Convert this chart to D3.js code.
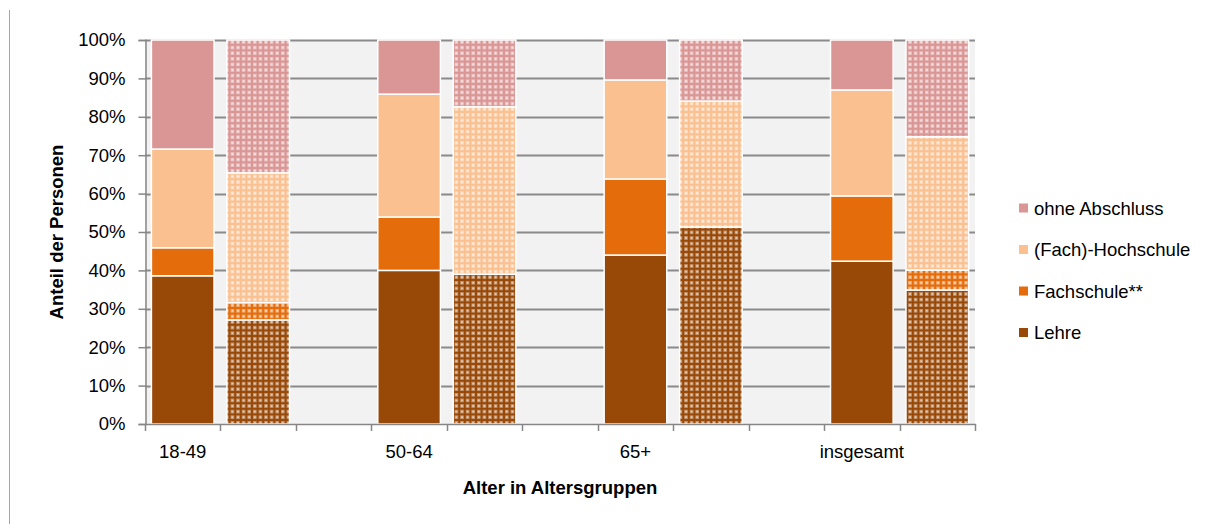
<!DOCTYPE html>
<html>
<head>
<meta charset="utf-8">
<script src="https://cdn.jsdelivr.net/npm/d3@7"></script>
<style>
  html, body { margin: 0; padding: 0; background: #ffffff; }
  svg { display: block; font-family: "Liberation Sans", Arial, sans-serif; }
</style>
</head>
<body>
<svg id="chart" width="1216" height="524"></svg>
<script>
// Category slots along the x axis (labels sit under the first bar of each group)
const xLabels = ["18-49", "", "", "50-64", "", "", "65+", "", "", "insgesamt", ""];
// Which slot each bar occupies, and whether it is drawn with the dotted fill
const barSlot = [0, 1, 3, 4, 6, 7, 9, 10];
const barDotted = [false, true, false, true, false, true, false, true];

// Shares in percent per bar (bottom to top)
const lehre      = [38.6, 27.1, 40.0, 39.0, 44.0, 51.3, 42.4, 34.9];
const fachschule = [ 7.3,  4.5, 13.9,  0.0, 19.8,  0.0, 17.0,  5.2];
const hochschule = [25.7, 33.8, 32.0, 43.6, 25.8, 32.8, 27.6, 34.7];
const ohne       = [28.4, 34.6, 14.1, 17.4, 10.4, 15.9, 13.0, 25.2];

const seriesNames = ["Lehre", "Fachschule**", "(Fach)-Hochschule", "ohne Abschluss"];
const seriesColors = ["#984807", "#e46c0a", "#fac090", "#d99694"];
const yTicks = [0, 10, 20, 30, 40, 50, 60, 70, 80, 90, 100];

const FS = 18.5;
const svg = d3.select("#chart");
const plot = { left: 145, right: 975, top: 40, bottom: 424 };

// outer frame line on the left
svg.append("line")
  .attr("x1", 9.5).attr("x2", 9.5).attr("y1", 10).attr("y2", 524)
  .attr("stroke", "#a6a6a6").attr("stroke-width", 1);

const x = d3.scaleBand()
  .domain(d3.range(xLabels.length))
  .range([plot.left, plot.right])
  .paddingInner(0.17).paddingOuter(0.085);

const y = d3.scaleLinear().domain([0, 100]).range([plot.bottom, plot.top]);

// plot background
svg.append("rect")
  .attr("x", plot.left).attr("y", plot.top)
  .attr("width", plot.right - plot.left).attr("height", plot.bottom - plot.top)
  .attr("fill", "#f2f2f2");

// gridlines
svg.append("g").selectAll("line").data(yTicks.slice(1)).join("line")
  .attr("x1", plot.left).attr("x2", plot.right)
  .attr("y1", d => Math.round(y(d)) + 0.5).attr("y2", d => Math.round(y(d)) + 0.5)
  .attr("stroke", "#8a8a8a").attr("stroke-width", 1.8);

// dotted fills
const defs = svg.append("defs");
seriesColors.forEach((c, i) => {
  const p = defs.append("pattern")
    .attr("id", "dots" + i)
    .attr("patternUnits", "userSpaceOnUse")
    .attr("width", 5.6).attr("height", 5.6);
  p.append("rect").attr("width", 5.6).attr("height", 5.6).attr("fill", c);
  p.append("rect").attr("x", 1.0).attr("y", 1.0).attr("width", 3.6).attr("height", 3.6)
    .attr("fill", "#ffffff").attr("fill-opacity", 0.42);
  p.append("rect").attr("x", 2.0).attr("y", 2.0).attr("width", 1.6).attr("height", 1.6)
    .attr("fill", "#ffffff").attr("fill-opacity", 0.65);
});

// stacked bars
const rows = barSlot.map((s, i) => ({
  slot: s, dotted: barDotted[i],
  Lehre: lehre[i], "Fachschule**": fachschule[i],
  "(Fach)-Hochschule": hochschule[i], "ohne Abschluss": ohne[i]
}));
const stacked = d3.stack().keys(seriesNames)(rows);

svg.append("g").selectAll("g").data(stacked).join("g")
  .each(function (layer, li) {
    d3.select(this).selectAll("rect").data(layer.filter(d => d[1] - d[0] > 0)).join("rect")
      .attr("x", d => x(d.data.slot))
      .attr("width", x.bandwidth())
      .attr("y", d => y(d[1]))
      .attr("height", d => y(d[0]) - y(d[1]))
      .attr("fill", d => d.data.dotted ? "url(#dots" + li + ")" : seriesColors[li])
      .attr("stroke", "#ffffff").attr("stroke-width", 1.5);
  });

// y axis
const yAxis = d3.axisLeft(y).tickValues(yTicks).tickFormat(d => d + "%").tickSize(7).tickPadding(13);
const gy = svg.append("g").attr("transform", `translate(${plot.left + 0.5},0)`).call(yAxis);
gy.select(".domain").attr("stroke", "#868686").attr("stroke-width", 1.5);
gy.selectAll(".tick line").attr("stroke", "#868686").attr("stroke-width", 1.5);
gy.selectAll(".tick text").attr("font-size", FS).attr("fill", "#000000")
  .attr("font-family", "Liberation Sans, Arial, sans-serif");

// x axis: tick marks at slot boundaries, labels centred on the slots
const xBounds = d3.scaleLinear().domain([0, xLabels.length]).range([plot.left, plot.right]);
const gx = svg.append("g");
gx.append("line").attr("x1", plot.left).attr("x2", plot.right + 1)
  .attr("y1", plot.bottom + 0.5).attr("y2", plot.bottom + 0.5)
  .attr("stroke", "#868686").attr("stroke-width", 1.5);
gx.selectAll("line.tk").data(d3.range(xLabels.length + 1)).join("line")
  .attr("class", "tk")
  .attr("x1", d => Math.round(xBounds(d)) + 0.5).attr("x2", d => Math.round(xBounds(d)) + 0.5)
  .attr("y1", plot.bottom).attr("y2", plot.bottom + 7)
  .attr("stroke", "#868686").attr("stroke-width", 1.5);
gx.selectAll("text").data(xLabels.map((l, i) => ({ l, i })).filter(d => d.l)).join("text")
  .attr("x", d => x(d.i) + x.bandwidth() / 2)
  .attr("y", 458)
  .attr("text-anchor", "middle")
  .attr("font-size", FS)
  .text(d => d.l);

// axis titles
svg.append("text")
  .attr("transform", `translate(63,${(plot.top + plot.bottom) / 2}) rotate(-90)`)
  .attr("text-anchor", "middle").attr("font-weight", "bold").attr("font-size", FS)
  .text("Anteil der Personen");
svg.append("text")
  .attr("x", 560).attr("y", 494)
  .attr("text-anchor", "middle").attr("font-weight", "bold").attr("font-size", FS)
  .text("Alter in Altersgruppen");

// legend (top entry is the top segment)
const legendOrder = [3, 2, 1, 0];
const lg = svg.append("g").selectAll("g").data(legendOrder).join("g")
  .attr("transform", (d, i) => `translate(1019,${208 + i * 41.5})`);
lg.append("rect").attr("x", 0).attr("y", -4.5).attr("width", 9).attr("height", 9)
  .attr("fill", d => seriesColors[d]);
lg.append("text").attr("x", 15).attr("y", 6.5).attr("font-size", FS)
  .text(d => seriesNames[d]);
</script>
</body>
</html>
